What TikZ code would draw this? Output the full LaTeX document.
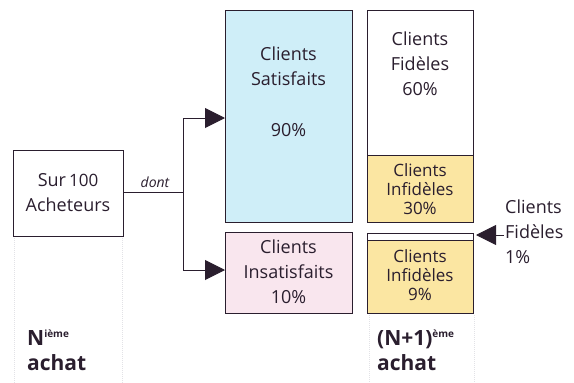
\documentclass[tikz,border=0pt]{standalone}
\usepackage{fontspec}
\setmainfont{Open Sans}
\usetikzlibrary{arrows.meta}
\definecolor{satcol}{HTML}{CFEEF8}
\definecolor{inscol}{HTML}{F9E6EE}
\definecolor{infcol}{HTML}{FBE6A2}
\definecolor{edgecol}{HTML}{2A1E2E}
\definecolor{faint}{HTML}{E2E2E6}
\tikzset{
  box/.style={draw=edgecol, line width=1.3pt, anchor=north west, inner sep=0pt},
  lbl/.style={align=center, font=\fontsize{18}{25}\selectfont, text=edgecol, inner sep=0pt},
  conn/.style={draw=edgecol, line width=1pt},
  bigarrow/.style={conn, -{Triangle[length=20pt,width=20pt]}},
  guide/.style={draw=faint, line width=1pt, densely dotted},
  bottomlbl/.style={align=left, font=\bfseries\fontsize{21}{25}\selectfont, text=edgecol, inner sep=0pt, anchor=north west}
}
\begin{document}
\begin{tikzpicture}[x=1pt,y=-1pt]
\useasboundingbox (0,0) rectangle (574,383);
% faint guides
\draw[guide] (14,238) -- (14,383);
\draw[guide] (122,238) -- (122,383);
\draw[guide] (369,315) -- (369,383);
\draw[guide] (474,315) -- (474,383);
% boxes
\node[box, minimum width=110pt, minimum height=86pt] (buy) at (13,150) {};
\node[box, fill=satcol, minimum width=127pt, minimum height=212pt] (sat) at (225,10) {};
\node[box, fill=inscol, minimum width=127pt, minimum height=81pt] (ins) at (225,232) {};
\node[box, fill=white, minimum width=106pt, minimum height=145pt] (fid) at (367,10) {};
\node[box, fill=infcol, minimum width=106pt, minimum height=67pt] (inf1) at (367,155) {};
\node[box, fill=white, minimum width=106pt, minimum height=7pt] (strip) at (367,233) {};
\node[box, fill=infcol, minimum width=106pt, minimum height=73pt] (inf2) at (367,240) {};
% labels
\node[lbl] (buyt) at (68,193) {Sur\,{\fontsize{17}{20}\selectfont 100}\\Acheteurs};
\node[lbl, anchor=north] (satt) at (288.5,47) {Clients\\Satisfaits\\[26pt]90\%};
\node[lbl] (inst) at (288.5,272) {Clients\\Insatisfaits\\10\%};
\node[lbl, anchor=north] (fidt) at (420,32) {Clients\\Fidèles\\60\%};
\node[lbl, font=\fontsize{17}{19}\selectfont] (inf1t) at (420,189) {Clients\\Infidèles\\30\%};
\node[lbl, font=\fontsize{17}{19}\selectfont] (inf2t) at (420,275) {Clients\\Infidèles\\9\%};
\node[lbl, align=left, anchor=west] (cf1) at (505,232) {Clients\\Fidèles\\1\%};
\node[font=\itshape\fontsize{14}{16}\selectfont, text=edgecol, inner sep=0pt] (dont) at (155,182) {dont};
\node[bottomlbl] (nth) at (27,330) {N\textsuperscript{\fontsize{10}{10}\selectfont ième}\\achat};
\node[bottomlbl] (n1th) at (377,330) {(N+1)\textsuperscript{\fontsize{10}{10}\selectfont ème}\\achat};
% connectors
\coordinate (j) at (183,192);
\coordinate (jt) at (183,118);
\coordinate (jb) at (183,270);
\coordinate (cfa) at (504,235);
\coordinate (cfb) at (476,235);
\draw[conn] (buy.east |- j) -- (j);
\draw[conn] (jt) -- (jb);
\draw[bigarrow] (jt) -- (sat.west |- jt);
\draw[bigarrow] (jb) -- (ins.west |- jb);
\draw[bigarrow] (cfa) -- (cfb);
\end{tikzpicture}
\end{document}
